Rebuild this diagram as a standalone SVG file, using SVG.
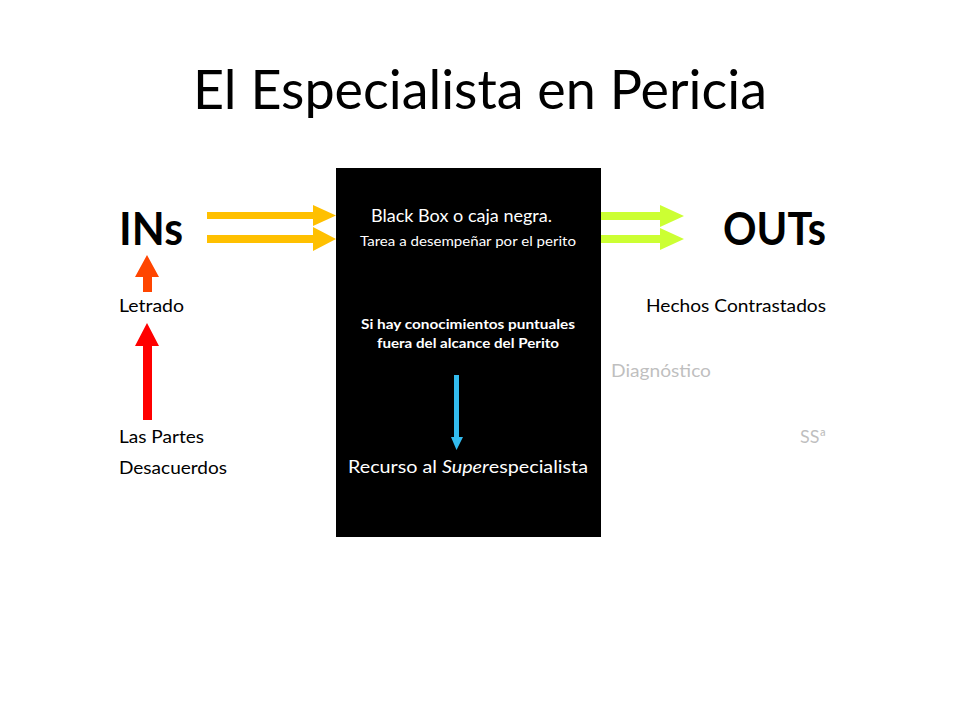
<svg xmlns="http://www.w3.org/2000/svg" width="960" height="720" viewBox="0 0 960 720">
<style>
text{font-family:Lato,"Open Sans","Liberation Sans",sans-serif;}
.t{font-size:18px;fill:#000;}
.g{font-size:18px;fill:#BFBFBF;}
.big{font-size:45px;font-weight:bold;fill:#000;}
.w{fill:#fff;}
.y{fill:#FFC000;}
.lg{fill:#CCFF33;}
</style>
<rect width="960" height="720" fill="#fff"/>
<g id="title">
<text x="193" y="109" font-size="55" textLength="574" lengthAdjust="spacingAndGlyphs">El Especialista en Pericia</text>
</g>
<g id="blackbox">
<rect x="336" y="168" width="265" height="369" fill="#000"/>
<text class="w" x="371" y="222" font-size="17" textLength="181" lengthAdjust="spacingAndGlyphs">Black Box o caja negra.</text>
<text class="w" x="360" y="246" font-size="13" textLength="216" lengthAdjust="spacingAndGlyphs">Tarea a desempeñar por el perito</text>
<text class="w" x="361" y="329" font-size="13" font-weight="bold" textLength="214" lengthAdjust="spacingAndGlyphs">Si hay conocimientos puntuales</text>
<text class="w" x="377" y="348" font-size="13" font-weight="bold" textLength="182" lengthAdjust="spacingAndGlyphs">fuera del alcance del Perito</text>
<text class="w" x="348" y="473" font-size="17" textLength="240" lengthAdjust="spacingAndGlyphs">Recurso al <tspan font-style="italic">Super</tspan>especialista</text>
</g>
<g id="ins">
<text class="big" x="119" y="245" textLength="64" lengthAdjust="spacingAndGlyphs">INs</text>
</g>
<g id="outs">
<text class="big" x="723" y="245" textLength="103" lengthAdjust="spacingAndGlyphs">OUTs</text>
</g>
<g id="letrado"><text class="t" x="119" y="312" textLength="65" lengthAdjust="spacingAndGlyphs">Letrado</text></g>
<g id="partes"><text class="t" x="119" y="443" textLength="85" lengthAdjust="spacingAndGlyphs">Las Partes</text></g>
<g id="desacuerdos"><text class="t" x="119" y="474" textLength="108" lengthAdjust="spacingAndGlyphs">Desacuerdos</text></g>
<g id="hechos"><text class="t" x="646" y="312" textLength="180" lengthAdjust="spacingAndGlyphs">Hechos Contrastados</text></g>
<g id="diagnostico"><text class="g" x="611" y="377" textLength="100" lengthAdjust="spacingAndGlyphs">Diagnóstico</text></g>
<g id="ssa"><text class="g" x="800" y="443" textLength="26" lengthAdjust="spacingAndGlyphs">SSª</text></g>
<g id="connectors">
<polygon class="y" points="207,212 313,212 313,205 336,215.5 313,226 313,219 207,219"/>
<polygon class="y" points="207,235 313,235 313,227 336,239 313,251 313,243 207,243"/>
<polygon class="lg" points="601,212 660,212 660,205 684,216 660,227 660,220 601,220"/>
<polygon class="lg" points="601,235 660,235 660,228 684,239 660,250 660,243 601,243"/>
<polygon fill="#FF4500" points="143,292 143,277 135,277 147,255 159,277 152,277 152,292"/>
<polygon fill="#FF0000" points="143,420 143,346 135,346 147,323 159,346 152,346 152,420"/>
<polygon fill="#33BBEE" points="454,375 459,375 459,437 463,437 456.5,450 451,437 454,437"/>
</g>
</svg>
